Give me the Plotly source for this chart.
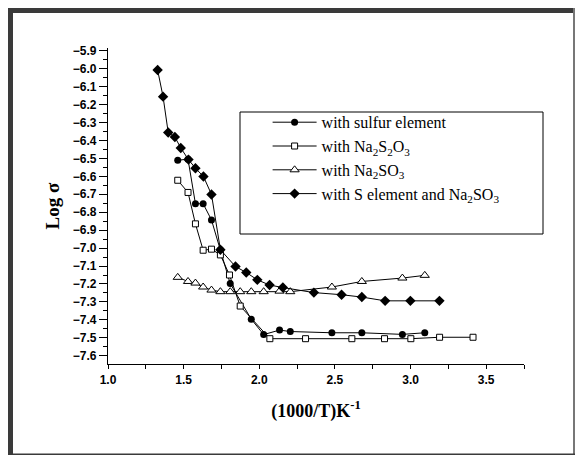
import plotly.graph_objects as go

# ---- data ----
x_sulfur = [1.461, 1.529, 1.578, 1.629, 1.684, 1.743, 1.808, 1.947, 2.029, 2.134, 2.205, 2.480, 2.678, 2.946, 3.094]
y_sulfur = [-6.510, -6.505, -6.753, -6.753, -6.843, -7.010, -7.198, -7.396, -7.482, -7.457, -7.465, -7.472, -7.472, -7.481, -7.472]

x_s2o3 = [1.461, 1.529, 1.578, 1.629, 1.684, 1.743, 1.803, 1.874, 2.070, 2.306, 2.612, 2.828, 3.002, 3.192, 3.413]
y_s2o3 = [-6.622, -6.690, -6.865, -7.012, -7.006, -7.038, -7.150, -7.323, -7.505, -7.505, -7.505, -7.505, -7.505, -7.497, -7.497]

x_so3 = [1.461, 1.529, 1.578, 1.629, 1.684, 1.743, 1.808, 1.874, 1.947, 2.029, 2.134, 2.205, 2.480, 2.678, 2.946, 3.094]
y_so3 = [-7.163, -7.186, -7.195, -7.217, -7.234, -7.243, -7.243, -7.243, -7.243, -7.243, -7.240, -7.243, -7.217, -7.186, -7.167, -7.152]

x_s_so3 = [1.328, 1.364, 1.398, 1.442, 1.481, 1.532, 1.578, 1.631, 1.684, 1.743, 1.843, 1.914, 1.987, 2.068,
           2.156, 2.361, 2.544, 2.678, 2.832, 2.999, 3.191]
y_s_so3 = [-6.008, -6.156, -6.356, -6.381, -6.442, -6.507, -6.555, -6.601, -6.701, -7.009, -7.103, -7.136, -7.177, -7.206,
           -7.220, -7.248, -7.260, -7.273, -7.294, -7.294, -7.294]

names = ["with sulfur element",
         "with Na<sub>2</sub>S<sub>2</sub>O<sub>3</sub>",
         "with Na<sub>2</sub>SO<sub>3</sub>",
         "with S element and Na<sub>2</sub>SO<sub>3</sub>"]

x_range = [1.0, 3.75]
y_range = [-7.646, -5.885]

# ---- layout geometry (pixels) ----
W, H = 575, 455
L, R, T, B = 108, 51, 48, 91
PW, PH = W - L - R, H - T - B


def px(xp):
    return (xp - L) / PW


def py(yp):
    return (H - B - yp) / PH


fig = go.Figure()
line_style = dict(color="black", width=1)
fig.add_trace(go.Scatter(x=x_sulfur, y=y_sulfur, name=names[0], mode="lines+markers", line=line_style,
                         marker=dict(symbol="circle", size=7, color="black")))
fig.add_trace(go.Scatter(x=x_s2o3, y=y_s2o3, name=names[1], mode="lines+markers", line=line_style,
                         marker=dict(symbol="square", size=6, color="white", line=dict(color="black", width=1))))
fig.add_trace(go.Scatter(x=x_so3, y=y_so3, name=names[2], mode="lines+markers", line=line_style,
                         marker=dict(symbol="triangle-up", size=8, color="white", line=dict(color="black", width=1))))
fig.add_trace(go.Scatter(x=x_s_so3, y=y_s_so3, name=names[3], mode="lines+markers", line=line_style,
                         marker=dict(symbol="diamond", size=8, color="black")))

frame_col = "#3a3a3a"
shapes = [
    # outer frame
    dict(type="rect", xref="paper", yref="paper", x0=px(8), x1=px(575), y0=py(13), y1=py(8),
         fillcolor=frame_col, line=dict(width=0)),
    dict(type="rect", xref="paper", yref="paper", x0=px(8), x1=px(13), y0=py(455), y1=py(8),
         fillcolor=frame_col, line=dict(width=0)),
    dict(type="rect", xref="paper", yref="paper", x0=px(573), x1=px(575), y0=py(455), y1=py(8),
         fillcolor="#777777", line=dict(width=0)),
    dict(type="rect", xref="paper", yref="paper", x0=px(8), x1=px(575), y0=py(455), y1=py(453.5),
         fillcolor=frame_col, line=dict(width=0)),
    # legend box
    dict(type="rect", xref="paper", yref="paper", x0=px(240), x1=px(543), y0=py(234), y1=py(112),
         fillcolor="white", line=dict(color="black", width=1), layer="below"),
]

tickfont = dict(family="Liberation Sans, Arial", size=12, color="black", weight="bold")

fig.update_layout(
    width=W, height=H,
    margin=dict(l=L, r=R, t=T, b=B, pad=0),
    paper_bgcolor="white", plot_bgcolor="white",
    showlegend=True,
    legend=dict(x=px(267.6), y=py(105.3), xanchor="left", yanchor="top", itemwidth=44,
                bgcolor="rgba(0,0,0,0)", borderwidth=0,
                font=dict(family="Liberation Serif, Times New Roman", size=16, color="black")),
    shapes=shapes,
    xaxis=dict(range=x_range, showgrid=False, zeroline=False, showline=True, linecolor="black", linewidth=1.3,
               ticks="outside", ticklen=4, tickwidth=1, tickcolor="black", dtick=0.5, tick0=1.0,
               tickformat=".1f", tickfont=tickfont,
               minor=dict(dtick=0.25, ticks="outside", ticklen=4, tickwidth=1, tickcolor="black", showgrid=False),
               title=dict(text="(1000/T)K<sup>-1</sup>", standoff=18,
                          font=dict(family="Liberation Serif, Times New Roman", size=18, color="black", weight="bold"))),
    yaxis=dict(range=y_range, showgrid=False, zeroline=False, showline=True, linecolor="black", linewidth=1.3,
               ticks="outside", ticklen=8, tickwidth=1, tickcolor="black", dtick=0.1, tick0=-5.9,
               tickformat=".1f", tickfont=tickfont,
               minor=dict(dtick=0.05, ticks="outside", ticklen=4, tickwidth=1, tickcolor="black", showgrid=False),
               title=dict(text="Log σ", standoff=8,
                          font=dict(family="Liberation Serif, Times New Roman", size=19, color="black", weight="bold"))),
)

fig.write_html("out.html")
